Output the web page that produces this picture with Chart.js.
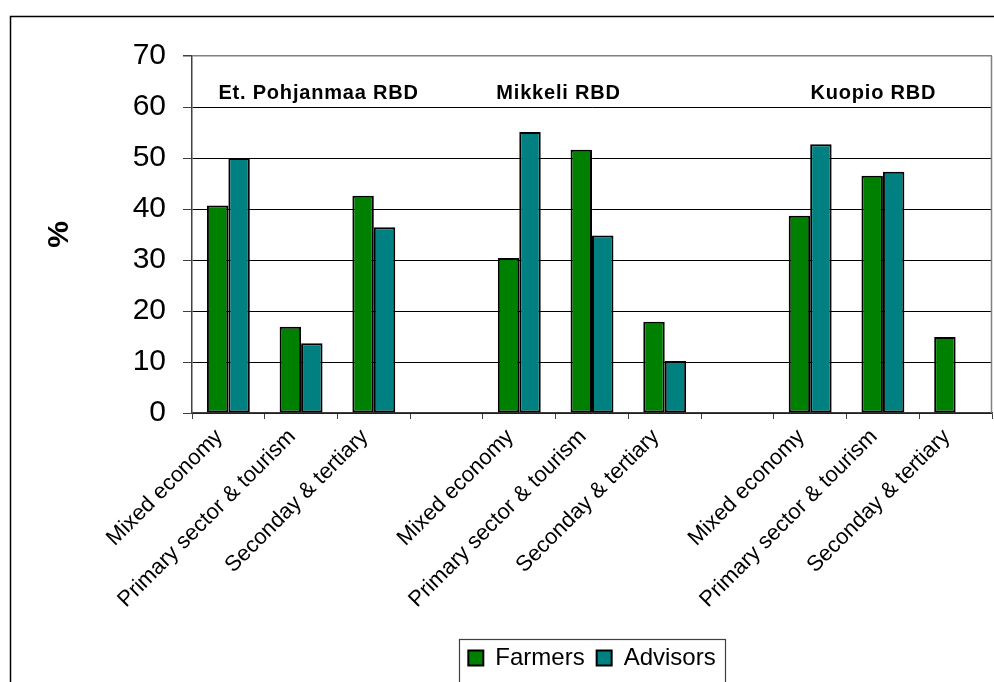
<!DOCTYPE html>
<html>
<head>
<meta charset="utf-8">
<script src="https://cdn.jsdelivr.net/npm/chart.js@4.4.1/dist/chart.umd.min.js"></script>
<style>
  html, body { margin: 0; padding: 0; background: #ffffff; }
  #wrap { width: 994px; height: 682px; position: relative; }
</style>
</head>
<body>
<div id="wrap"><canvas id="c" width="994" height="682"></canvas></div>
<script>
// Share of respondents (%) by local economy type, three river basin districts
const categories = [
  'Mixed economy', 'Primary sector & tourism', 'Seconday & tertiary', '',
  'Mixed economy', 'Primary sector & tourism', 'Seconday & tertiary', '',
  'Mixed economy', 'Primary sector & tourism', 'Seconday & tertiary'
];
const farmers  = [40.7, 16.9, 42.6, null, 30.4, 51.6, 17.9, null, 38.7, 46.5, 14.9];
const advisors = [50.0, 13.7, 36.4, null, 55.1, 34.8, 10.2, null, 52.7, 47.3, null];
const yTicks = [0, 10, 20, 30, 40, 50, 60, 70];
const regions = ['Et. Pohjanmaa RBD', 'Mikkeli RBD', 'Kuopio RBD'];

const FONT = "'Liberation Sans', Arial, sans-serif";

// Frame around the whole figure, plot-area border, region headings, legend box
const decorations = {
  id: 'decorations',
  beforeDraw(chart) {
    const ctx = chart.ctx;
    ctx.save();
    ctx.fillStyle = '#ffffff';
    ctx.fillRect(0, 0, chart.width, chart.height);
    ctx.restore();
  },
  afterDraw(chart) {
    const ctx = chart.ctx;
    const { left, right, top, bottom } = chart.chartArea;
    const xs = chart.scales.x, ys = chart.scales.y;
    ctx.save();

    // outer figure frame (runs off the right and bottom edges)
    ctx.strokeStyle = '#000000';
    ctx.lineWidth = 1.5;
    ctx.beginPath();
    ctx.moveTo(10.5, chart.height + 5);
    ctx.lineTo(10.5, 16.5);
    ctx.lineTo(chart.width + 5, 16.5);
    ctx.stroke();

    // plot area right border
    ctx.strokeStyle = '#808080';
    ctx.lineWidth = 1.5;
    ctx.beginPath();
    ctx.moveTo(right - 0.5, top);
    ctx.lineTo(right - 0.5, bottom);
    ctx.stroke();

    // region headings above each group of bars
    const anchor = [1.24, 4.54, 8.87];
    ctx.fillStyle = '#000000';
    ctx.font = 'bold 20px ' + FONT;
    ctx.textAlign = 'center';
    ctx.textBaseline = 'middle';
    if ('letterSpacing' in ctx) ctx.letterSpacing = '0.8px';
    regions.forEach((name, i) => {
      ctx.fillText(name, xs.getPixelForValue(anchor[i]), ys.getPixelForValue(62.6));
    });
    if ('letterSpacing' in ctx) ctx.letterSpacing = '0px';

    // box around the legend
    const hb = chart.legend.legendHitBoxes;
    if (hb && hb.length) {
      const l = hb[0].left - 9;
      const r = hb[hb.length - 1].left + hb[hb.length - 1].width + 10;
      const t = hb[0].top - 7;
      ctx.strokeStyle = '#404040';
      ctx.lineWidth = 1.2;
      ctx.strokeRect(Math.round(l) + 0.5, Math.round(t) + 0.5, Math.round(r - l), chart.height);
    }
    ctx.restore();
  }
};

new Chart(document.getElementById('c'), {
  type: 'bar',
  data: {
    labels: categories,
    datasets: [
      { label: 'Farmers',  data: farmers,  backgroundColor: '#008000', borderColor: '#000000', borderWidth: 2, borderSkipped: false },
      { label: 'Advisors', data: advisors, backgroundColor: '#008080', borderColor: '#000000', borderWidth: 2, borderSkipped: false }
    ]
  },
  options: {
    responsive: false,
    devicePixelRatio: 1,
    animation: false,
    layout: { padding: { left: 0, right: 2, top: 56, bottom: 2 } },
    datasets: { bar: { categoryPercentage: 0.59, barPercentage: 1.0 } },
    plugins: {
      tooltip: { enabled: false },
      legend: {
        position: 'bottom',
        fullSize: false,
        labels: {
          color: '#000000',
          font: { family: FONT, size: 24 },
          boxWidth: 15,
          boxHeight: 15,
          padding: 12,
          useBorderRadius: false
        }
      }
    },
    scales: {
      x: {
        offset: true,
        grid: { offset: true, drawOnChartArea: false, drawTicks: true, tickLength: 6, color: '#404040' },
        border: { color: '#404040', width: 1.5 },
        ticks: {
          color: '#000000',
          font: { family: FONT, size: 22 },
          minRotation: 45,
          maxRotation: 45,
          autoSkip: false,
          padding: 5,
          labelOffset: -9
        },
        afterFit(scale) { scale.height = 221; }
      },
      y: {
        min: 0,
        max: 70,
        afterBuildTicks(scale) { scale.ticks = yTicks.map(v => ({ value: v })); },
        grid: {
          color: ctx => (ctx.tick && ctx.tick.value === 70 ? '#808080' : '#000000'),
          lineWidth: ctx => (ctx.tick && ctx.tick.value === 70 ? 1.5 : 1),
          tickLength: 9,
          tickColor: '#404040'
        },
        border: { color: '#404040', width: 1.5 },
        ticks: {
          color: '#000000',
          font: { family: FONT, size: 30 },
          padding: 17
        },
        title: {
          display: true,
          text: '%',
          color: '#000000',
          font: { family: FONT, size: 30, weight: 'bold' },
          padding: { top: 42, bottom: 0 }
        },
        afterFit(scale) { scale.width = 192; }
      }
    }
  },
  plugins: [decorations]
});
</script>
</body>
</html>
